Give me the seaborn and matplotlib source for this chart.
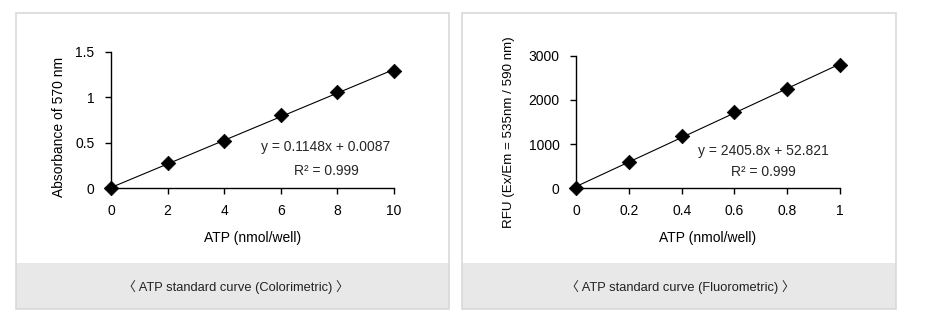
import matplotlib
matplotlib.use("Agg")
import matplotlib.pyplot as plt
import seaborn as sns
import pandas as pd
from matplotlib.patches import Rectangle

# ---- data ----
color_x = [0, 2, 4, 6, 8, 10]
color_y = [0.0, 0.274, 0.516, 0.805, 1.057, 1.288]
color_xticks = [0, 2, 4, 6, 8, 10]
color_yticks = [0, 0.5, 1, 1.5]
color_ytick_labels = ["0", "0.5", "1", "1.5"]
color_eq = "y = 0.1148x + 0.0087"
color_r2 = "R² = 0.999"

fluo_x = [0, 0.2, 0.4, 0.6, 0.8, 1.0]
fluo_y = [0, 603, 1191, 1734, 2246, 2781]
fluo_xticks = [0, 0.2, 0.4, 0.6, 0.8, 1]
fluo_xtick_labels = ["0", "0.2", "0.4", "0.6", "0.8", "1"]
fluo_yticks = [0, 1000, 2000, 3000]
fluo_eq = "y = 2405.8x + 52.821"
fluo_r2 = "R² = 0.999"

xlabel = "ATP (nmol/well)"
ylabel_left = "Absorbance of 570 nm"
ylabel_right = "RFU (Ex/Em = 535nm / 590 nm)"
caption_left = "〈 ATP standard curve (Colorimetric) 〉"
caption_right = "〈 ATP standard curve (Fluorometric) 〉"

sns.set_theme(style="white")
plt.rcParams["font.family"] = ["Liberation Sans", "Noto Sans CJK KR", "DejaVu Sans"]

W, H = 925, 323
fig = plt.figure(figsize=(W / 100, H / 100), dpi=100)
fig.patch.set_facecolor("white")

def px_rect(x0, y0, x1, y1, **kw):
    # pixel coords (top-left origin) -> figure fraction rectangle
    r = Rectangle((x0 / W, 1 - y1 / H), (x1 - x0) / W, (y1 - y0) / H,
                  transform=fig.transFigure, **kw)
    fig.patches.append(r)

# panel boxes
for (x0, x1) in [(16, 449), (462, 896)]:
    px_rect(x0, 262.7, x1, 309, facecolor="#e8e8e8", edgecolor="none", zorder=0)
    px_rect(x0, 12.5, x1, 309, facecolor="none", edgecolor="#d9d9d9", linewidth=1.2, zorder=1)

fig.text(236 / W, 1 - 287 / H, caption_left, ha="center", va="center", fontsize=9.3, color="#222222")
fig.text(680 / W, 1 - 287 / H, caption_right, ha="center", va="center", fontsize=9.3, color="#222222")

def make_axes(px_left, px_right, px_top, px_bottom):
    return fig.add_axes([px_left / W, 1 - px_bottom / H,
                         (px_right - px_left) / W, (px_bottom - px_top) / H])

def style_axes(ax):
    ax.set_facecolor("none")
    for s in ["top", "right"]:
        ax.spines[s].set_visible(False)
    for s in ["left", "bottom"]:
        ax.spines[s].set_color("black")
        ax.spines[s].set_linewidth(1.0)
    ax.tick_params(axis="both", which="major", direction="out", length=4, width=1.0,
                   color="black", labelsize=10, labelcolor="black", pad=4,
                   bottom=True, left=True)
    ax.tick_params(axis="x", pad=7)
    ax.tick_params(axis="y", pad=8)

def draw(ax, x, y):
    df = pd.DataFrame({"x": x, "y": y})
    sns.regplot(data=df, x="x", y="y", ax=ax, scatter=False, ci=None, truncate=True,
                line_kws=dict(color="black", linewidth=0.8))
    sns.scatterplot(data=df, x="x", y="y", ax=ax, marker="D", s=55, color="black",
                    edgecolor="black", linewidth=0.5, zorder=5, clip_on=False)
    ax.set_xlabel(xlabel, fontsize=10, color="black", labelpad=10)

# left: colorimetric
axL = make_axes(111, 394, 51.7, 188.3)
draw(axL, color_x, color_y)
style_axes(axL)
axL.set_xlim(0, 10)
axL.set_ylim(0, 1.5)
axL.set_xticks(color_xticks)
axL.set_xticklabels([str(t) for t in color_xticks])
axL.set_yticks(color_yticks)
axL.set_yticklabels(color_ytick_labels)
axL.set_ylabel(ylabel_left, fontsize=10, color="black")
axL.yaxis.set_label_coords(-0.16, 0.45)
axL.text(0.757, 0.30, color_eq, transform=axL.transAxes, ha="center", va="center", fontsize=10)
axL.text(0.76, 0.125, color_r2, transform=axL.transAxes, ha="center", va="center", fontsize=10)

# right: fluorometric
axR = make_axes(576.3, 839.7, 55.7, 188.3)
draw(axR, fluo_x, fluo_y)
style_axes(axR)
axR.set_xlim(0, 1)
axR.set_ylim(0, 3000)
axR.set_xticks(fluo_xticks)
axR.set_xticklabels(fluo_xtick_labels)
axR.set_yticks(fluo_yticks)
axR.set_yticklabels([str(t) for t in fluo_yticks])
axR.set_ylabel(ylabel_right, fontsize=9.6, color="black")
axR.yaxis.set_label_coords(-0.233, 0.42)
axR.text(0.711, 0.282, fluo_eq, transform=axR.transAxes, ha="center", va="center", fontsize=10)
axR.text(0.711, 0.12, fluo_r2, transform=axR.transAxes, ha="center", va="center", fontsize=10)

fig.savefig("out.png", dpi=100, facecolor="white")
